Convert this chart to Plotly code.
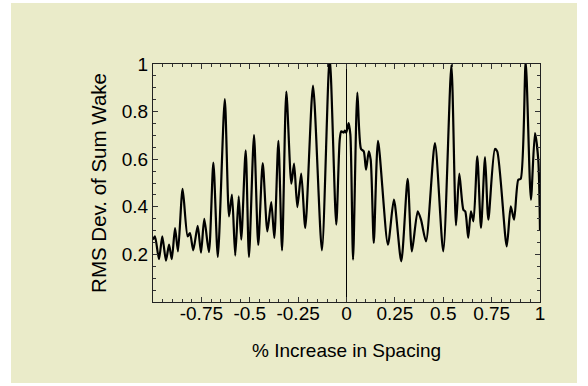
import plotly.graph_objects as go

# Data
spacing = [-1.0, -0.990, -0.969, -0.952, -0.933, -0.917, -0.903, -0.886, -0.871, -0.847,
           -0.821, -0.809, -0.792, -0.769, -0.752, -0.735, -0.711, -0.688, -0.665,
           -0.629, -0.607, -0.592, -0.575, -0.557, -0.544, -0.521, -0.504, -0.478, -0.456,
           -0.433, -0.409, -0.389, -0.373, -0.352,
           -0.333, -0.311, -0.285, -0.271, -0.254, -0.234, -0.213, -0.173, -0.127, -0.087,
           -0.053, -0.035, -0.027, -0.014, -0.009, -0.001, 0.011, 0.020, 0.034, 0.056,
           0.075, 0.089, 0.101, 0.115, 0.125, 0.141, 0.163, 0.214, 0.245, 0.283, 0.316,
           0.338, 0.368, 0.385, 0.411, 0.457, 0.500, 0.542, 0.566, 0.583, 0.604, 0.614,
           0.629, 0.643, 0.656, 0.676, 0.695, 0.716, 0.733, 0.767, 0.779, 0.828, 0.849,
           0.866, 0.888, 0.900, 0.926, 0.953, 0.974, 0.991, 1.0]
rms_dev = [0.262, 0.276, 0.18, 0.276, 0.174, 0.241, 0.18, 0.311, 0.213, 0.475,
           0.276, 0.29, 0.217, 0.32, 0.207, 0.349, 0.21, 0.586, 0.19,
           0.852, 0.36, 0.451, 0.195, 0.444, 0.262, 0.637, 0.19, 0.701, 0.24,
           0.584, 0.297, 0.42, 0.269, 0.677,
           0.217, 0.884, 0.497, 0.581, 0.399, 0.539, 0.311, 0.909, 0.217, 1.03,
           0.325, 0.682, 0.717, 0.712, 0.72, 0.712, 0.752, 0.703, 0.178, 0.88,
           0.643, 0.633, 0.556, 0.633, 0.598, 0.248, 0.677, 0.241, 0.43, 0.171, 0.517,
           0.213, 0.381, 0.346, 0.255, 0.668, 0.213, 0.995, 0.322, 0.539, 0.388, 0.38,
           0.269, 0.381, 0.339, 0.612, 0.311, 0.609, 0.346, 0.643, 0.633, 0.234, 0.402,
           0.346, 0.514, 0.517, 1.01, 0.43, 0.71, 0.598, 0.3]

x_tick_vals = [-0.75, -0.5, -0.25, 0, 0.25, 0.5, 0.75, 1]
x_tick_text = ["-0.75", "-0.5", "-0.25", "0", "0.25", "0.5", "0.75", "1"]
y_tick_vals = [0.2, 0.4, 0.6, 0.8, 1]
y_tick_text = ["0.2", "0.4", "0.6", "0.8", "1"]

BG = "#EAEBC9"
FONT = "Liberation Sans, Arial, sans-serif"
FS = 19

fig = go.Figure()
fig.add_trace(go.Scatter(x=spacing, y=rms_dev, mode="lines",
                         line=dict(color="black", width=2.2, shape="spline", smoothing=0.7),
                         showlegend=False, hoverinfo="skip"))

L, R, T, B = 153, 48, 64, 84
W, H = 588, 386
pw, ph = W - L - R, H - T - B
fig.add_shape(type="rect", xref="paper", yref="paper", layer="below",
              x0=(11 - L) / pw, x1=(577 - L) / pw,
              y0=(H - B - 383) / ph, y1=(H - B - 3) / ph,
              fillcolor=BG, line=dict(width=0))

axis_common = dict(showline=True, linecolor="#222", linewidth=1, mirror="allticks",
                   ticks="inside", ticklen=5, tickcolor="#333", tickwidth=1,
                   showgrid=False,
                   tickfont=dict(family=FONT, size=FS, color="black"),
                   minor=dict(tickmode="linear", tick0=0, dtick=0.05, ticks="inside",
                              ticklen=3, tickcolor="#333", showgrid=False))

fig.update_xaxes(range=[-1, 1], tickmode="array", tickvals=x_tick_vals, ticktext=x_tick_text,
                 zeroline=True, zerolinecolor="black", zerolinewidth=1,
                 ticklabelstandoff=-6,
                 title=dict(text="% Increase in Spacing", font=dict(family=FONT, size=FS, color="black"),
                            standoff=20),
                 **axis_common)
fig.update_yaxes(range=[0, 1], tickmode="array", tickvals=y_tick_vals, ticktext=y_tick_text,
                 zeroline=False,
                 title=dict(text="RMS Dev. of Sum Wake", font=dict(family=FONT, size=20.5, color="black"),
                            standoff=9),
                 **axis_common)

fig.update_layout(width=W, height=H, margin=dict(l=L, r=R, t=T, b=B, autoexpand=False),
                  paper_bgcolor="white", plot_bgcolor=BG,
                  font=dict(family=FONT, size=FS, color="black"))

fig.write_html("out.html")
